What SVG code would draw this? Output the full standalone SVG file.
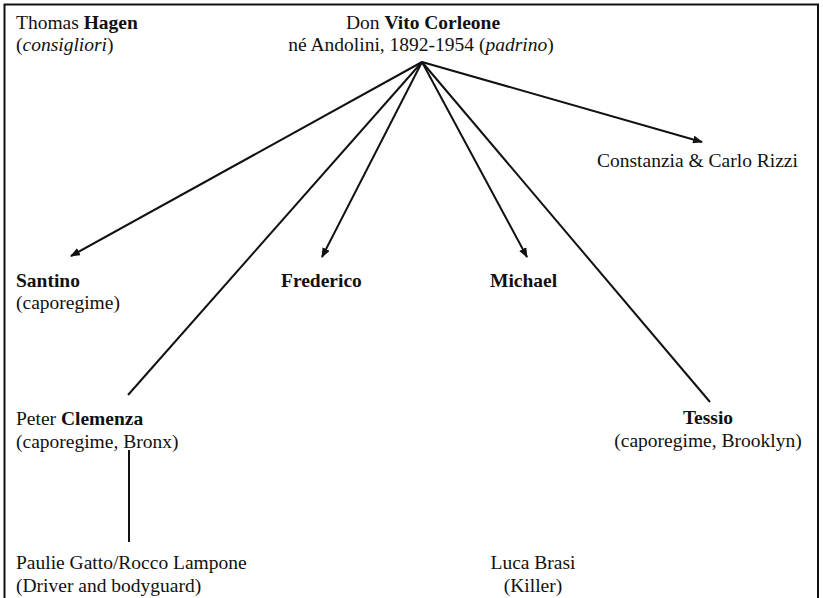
<svg xmlns="http://www.w3.org/2000/svg" width="823" height="598" viewBox="0 0 823 598">
<style>
text{font-family:"Liberation Serif","Times New Roman",serif;font-size:19.5px;fill:#111}
.b{font-weight:bold}
.i{font-style:italic}
.m{text-anchor:middle}
.c{stroke:#111;stroke-width:2;fill:none}
</style>
<defs>
<marker id="ah" viewBox="0 0 10 8" refX="9" refY="4" markerWidth="10" markerHeight="8" markerUnits="userSpaceOnUse" orient="auto">
<path d="M0,0 L10,4 L0,8 Z" fill="#111"/>
</marker>
</defs>
<rect x="0" y="0" width="823" height="598" fill="#fff"/>
<rect x="4.5" y="4.5" width="813.5" height="610" fill="none" stroke="#111" stroke-width="2"/>
<g id="connectors">
<line class="c" x1="422" y1="62" x2="71" y2="256" marker-end="url(#ah)"/>
<line class="c" x1="422" y1="62" x2="128" y2="395"/>
<line class="c" x1="422" y1="62" x2="322" y2="257" marker-end="url(#ah)"/>
<line class="c" x1="422" y1="62" x2="527" y2="257" marker-end="url(#ah)"/>
<line class="c" x1="422" y1="62" x2="710" y2="402"/>
<line class="c" x1="422" y1="62" x2="702" y2="142" marker-end="url(#ah)"/>
<line class="c" x1="129" y1="450" x2="129" y2="542"/>
</g>
<g id="hagen">
<text x="16" y="29">Thomas <tspan class="b">Hagen</tspan></text>
<text x="16" y="51">(<tspan class="i">consigliori</tspan>)</text>
</g>
<g id="vito">
<text class="m" x="423" y="29">Don <tspan class="b">Vito Corleone</tspan></text>
<text class="m" x="421" y="51">né Andolini, 1892-1954 (<tspan class="i">padrino</tspan>)</text>
</g>
<g id="constanzia">
<text x="597" y="167">Constanzia &amp; Carlo Rizzi</text>
</g>
<g id="santino">
<text class="b" x="16" y="287">Santino</text>
<text x="16" y="309">(caporegime)</text>
</g>
<g id="frederico">
<text class="b" x="281" y="287">Frederico</text>
</g>
<g id="michael">
<text class="b" x="490" y="287">Michael</text>
</g>
<g id="clemenza">
<text x="16" y="425">Peter <tspan class="b">Clemenza</tspan></text>
<text x="16" y="448">(caporegime, Bronx)</text>
</g>
<g id="tessio">
<text class="b m" x="708" y="424">Tessio</text>
<text class="m" x="708" y="447">(caporegime, Brooklyn)</text>
</g>
<g id="paulie">
<text x="16" y="569">Paulie Gatto/Rocco Lampone</text>
<text x="16" y="592">(Driver and bodyguard)</text>
</g>
<g id="brasi">
<text class="m" x="533" y="569">Luca Brasi</text>
<text class="m" x="533" y="592">(Killer)</text>
</g>
</svg>
